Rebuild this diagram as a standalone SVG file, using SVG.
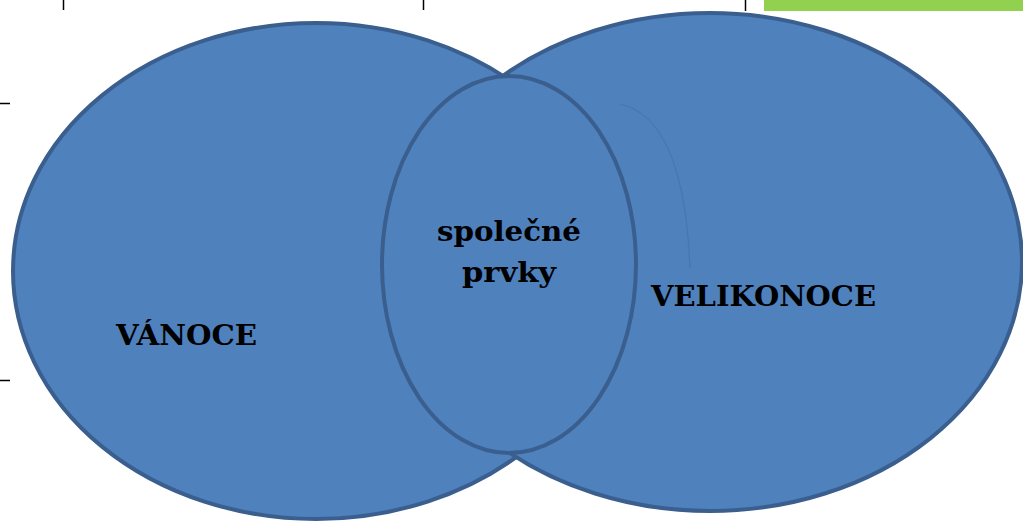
<svg xmlns="http://www.w3.org/2000/svg" width="1023" height="522" viewBox="0 0 1023 522">
<style>
.shape{fill:#4F81BD;stroke:#3A5F8F;stroke-width:4}
.lbl{font-family:"DejaVu Serif","Liberation Serif",serif;font-weight:bold;font-size:28px;fill:#000;text-anchor:middle}
.tick{stroke:#000;stroke-width:1.5}
</style>
<rect width="1023" height="522" fill="#fff"/>
<g id="page-marks">
<line class="tick" x1="63.5" y1="0" x2="63.5" y2="10"/>
<line class="tick" x1="423.5" y1="0" x2="423.5" y2="10"/>
<line class="tick" x1="745.5" y1="0" x2="745.5" y2="11"/>
<line class="tick" x1="0" y1="103.5" x2="10" y2="103.5"/>
<line class="tick" x1="0" y1="380.5" x2="10" y2="380.5"/>
<rect x="764" y="0" width="259" height="11" fill="#92D050"/>
</g>
<g id="vanoce">
<ellipse class="shape" cx="316" cy="271" rx="303" ry="248"/>
</g>
<g id="velikonoce">
<ellipse class="shape" cx="710" cy="262" rx="312" ry="249"/>
<path d="M620 104 Q684 118 690 268" fill="none" stroke="#4776B0" stroke-width="1.2"/>
</g>
<g id="spolecne">
<ellipse class="shape" cx="509" cy="264.5" rx="127" ry="188.5"/>
</g>
<g id="labels">
<text class="lbl" x="186.5" y="345" textLength="141" lengthAdjust="spacingAndGlyphs">VÁNOCE</text>
<text class="lbl" x="763.5" y="306" textLength="225" lengthAdjust="spacingAndGlyphs">VELIKONOCE</text>
<text class="lbl" x="509" y="241" textLength="144" lengthAdjust="spacingAndGlyphs">společné</text>
<text class="lbl" x="509" y="282" textLength="94" lengthAdjust="spacingAndGlyphs">prvky</text>
</g>
<g id="connectors"/>
</svg>
